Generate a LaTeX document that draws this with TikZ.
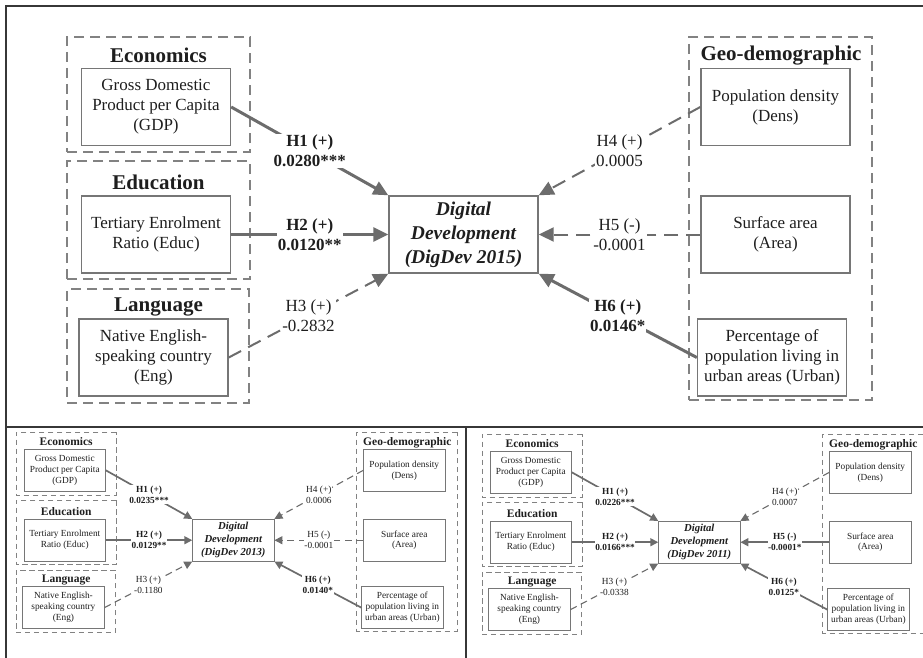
\documentclass[tikz,border=0pt]{standalone}
\usepackage{fontspec}
\setmainfont{Liberation Serif}
\usetikzlibrary{arrows.meta}

\definecolor{framegray}{RGB}{55,55,55}
\definecolor{boxgray}{RGB}{118,118,118}
\definecolor{dashgray}{RGB}{130,130,130}
\definecolor{arrowgray}{RGB}{108,108,108}
\definecolor{textblack}{RGB}{30,30,30}

\tikzset{
  frameline/.style={draw=framegray, line width=2pt},
  varbox/.style={draw=boxgray, line width=1.4pt, align=center, text=textblack,
    minimum width=149pt, minimum height=77pt, inner sep=1pt},
  depbox/.style={varbox, font=\fontsize{19.5}{24}\selectfont\bfseries\itshape},
  groupbox/.style={draw=dashgray, line width=1.3pt, dash pattern=on 10pt off 6pt},
  grouptitle/.style={font=\fontsize{21}{25}\selectfont\bfseries, text=textblack},
  sigpath/.style={draw=arrowgray, line width=3pt, -{Triangle[length=15pt,width=14pt]},
    every node/.append style={font=\bfseries}},
  nspath/.style={draw=arrowgray, line width=2pt, dash pattern=on 14pt off 8pt,
    -{Triangle[length=15pt,width=14pt]}},
  coef/.style={fill=white, align=center, text=textblack, inner sep=1pt, pos=0.5},
  minipanel/.style={scale=0.548, transform shape,
    sigpath/.append style={line width=1.7pt, -{Triangle[length=8pt,width=8pt]}},
    nspath/.append style={line width=1.1pt, dash pattern=on 7pt off 4.5pt,
      -{Triangle[length=8pt,width=8pt]}},
    groupbox/.append style={line width=0.8pt, dash pattern=on 5.5pt off 3.5pt},
    varbox/.append style={line width=0.9pt}}
}

% #1 year, #2 H1, #3 H2, #4 H3, #5 H4, #6 H5, #7 style of H5, #8 H6
\newcommand{\digdevpanel}[8]{%
  % Variable groups
  \node[groupbox, minimum width=183pt, minimum height=115pt] (econ#1) at (158.5,94.5) {};
  \node[grouptitle] (econtitle#1) at (158.5,55) {Economics};
  \node[varbox] (gdp#1) at (156,107) {Gross Domestic\\Product per Capita\\(GDP)};
  \node[groupbox, minimum width=183pt, minimum height=118pt] (educ#1) at (158.5,220) {};
  \node[grouptitle] (eductitle#1) at (158.5,182) {Education};
  \node[varbox] (ter#1) at (156,234.5) {Tertiary Enrolment\\Ratio (Educ)};
  \node[groupbox, minimum width=182pt, minimum height=114pt] (lang#1) at (158,346) {};
  \node[grouptitle] (langtitle#1) at (158.5,307) {Language};
  \node[varbox] (eng#1) at (153.5,357.5) {Native English-\\speaking country\\(Eng)};
  \node[groupbox, minimum width=183pt, minimum height=363pt] (geo#1) at (780.5,218.5) {};
  \node[grouptitle] (geotitle#1) at (781,56) {Geo-demographic};
  \node[varbox] (dens#1) at (775.5,107) {Population density\\(Dens)};
  \node[varbox] (area#1) at (775.5,234.5) {Surface area\\(Area)};
  \node[varbox] (urban#1) at (772,357.5) {Percentage of\\population living in\\urban areas (Urban)};
  % Dependent variable
  \node[depbox] (dig#1) at (463.5,234.5) {Digital\\Development\\(DigDev #1)};
  % Hypotheses
  \draw[sigpath] (gdp#1.east) -- node[coef] {H1 (+)\\#2} (dig#1.north west);
  \draw[sigpath] (ter#1.east) -- node[coef] {H2 (+)\\#3} (dig#1.west);
  \draw[nspath] (eng#1.east) -- node[coef] {H3 (+)\\#4} (dig#1.south west);
  \draw[nspath] (dens#1.west) -- node[coef] {H4 (+)\\#5} (dig#1.north east);
  \draw[#7] (area#1.west) -- node[coef] {H5 (-)\\#6} (dig#1.east);
  \draw[sigpath] (urban#1.west) -- node[coef] {H6 (+)\\#8} (dig#1.south east);
}

\begin{document}
\fontsize{17}{20}\selectfont
\begin{tikzpicture}[x=1pt, y=-1pt]
  \useasboundingbox (0,0) rectangle (923,658);
  % Panel frames
  \draw[frameline] (923,6) -- (6,6) -- (6,658);
  \draw[frameline] (6,427) -- (923,427);
  \draw[frameline] (466,427) -- (466,658);

  % 2015
  \digdevpanel{2015}{0.0280***}{0.0120**}{-0.2832}{0.0005}{-0.0001}{nspath}{0.0146*}

  % 2013
  \begin{scope}[shift={(-20.7,411.7)}, minipanel]
    \digdevpanel{2013}{0.0235***}{0.0129**}{-0.1180}{0.0006}{-0.0001}{nspath}{0.0140*}
  \end{scope}

  % 2011
  \begin{scope}[shift={(445.3,413.7)}, minipanel]
    \digdevpanel{2011}{0.0226***}{0.0166***}{-0.0338}{0.0007}{-0.0001*}{sigpath}{0.0125*}
  \end{scope}
\end{tikzpicture}
\end{document}
